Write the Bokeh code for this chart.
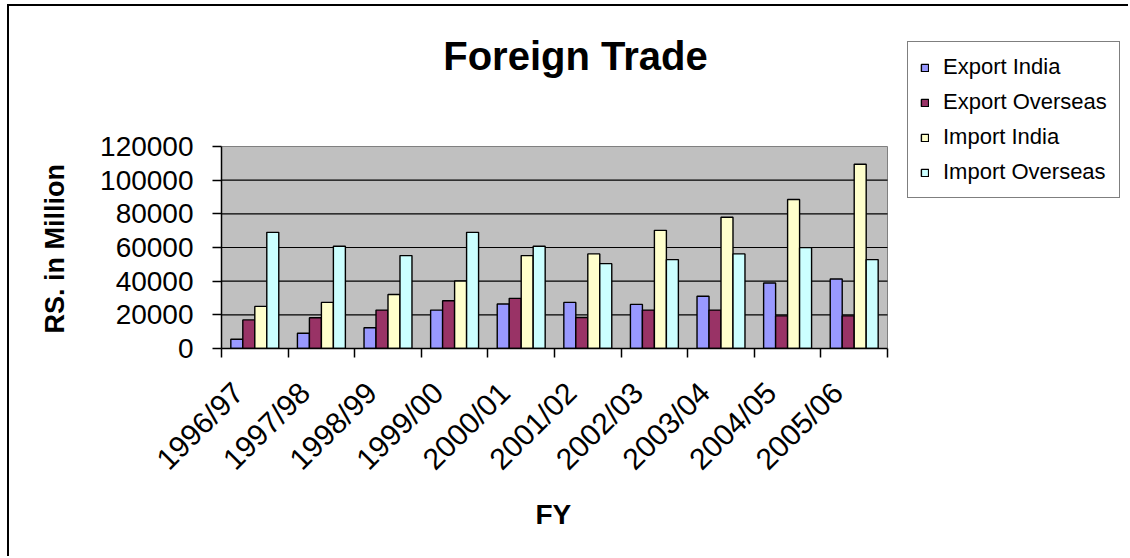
from bokeh.plotting import figure
from bokeh.models import (ColumnDataSource, Range1d, FixedTicker, Legend, LegendItem,
                          Label, Title, NumeralTickFormatter)
from bokeh.transform import dodge
from bokeh.embed import file_html
from bokeh.resources import INLINE

# Financial years (x categories)
years = ["1996/97", "1997/98", "1998/99", "1999/00", "2000/01",
         "2001/02", "2002/03", "2003/04", "2004/05", "2005/06"]

# Trade values, RS. in Million
export_india = [5500, 9100, 12300, 22800, 26400, 27400, 26200, 31000, 38900, 41300]
export_overseas = [17000, 18300, 22800, 28400, 29800, 18400, 22800, 22800, 19400, 19400]
import_india = [25000, 27400, 32100, 40100, 55200, 56200, 70200, 78000, 88500, 109500]
import_overseas = [69000, 60700, 55200, 69000, 60700, 50400, 52800, 56200, 59900, 52800]

series_names = ["Export India", "Export Overseas", "Import India", "Import Overseas"]
series_colors = ["#9999FF", "#993366", "#FFFFCC", "#CCFFFF"]
y_ticks = [0, 20000, 40000, 60000, 80000, 100000, 120000]

FONT = "Liberation Sans"

# Layout (pixels): canvas size, margins around the frame, size of the grey plot area
W, H = 1121, 552
BORDER_L, BORDER_B = 212, 210
AREA_W, AREA_H = 666, 202

n = len(years)
y_max = y_ticks[-1]
frame_w, frame_h = W - BORDER_L, H - BORDER_B
x_lo = -0.5
x_hi = x_lo + frame_w / AREA_W * n          # frame runs on past the bars to hold the legend
y_hi = frame_h / AREA_H * y_max             # and up above them to hold the title

idx = list(range(n))
source = ColumnDataSource(data=dict(
    x=idx,
    export_india=export_india,
    export_overseas=export_overseas,
    import_india=import_india,
    import_overseas=import_overseas,
))

p = figure(
    width=W, height=H, title=None,
    x_range=Range1d(x_lo, x_hi),
    y_range=Range1d(0, y_hi),
    output_backend="svg", toolbar_location=None,
    min_border_left=BORDER_L, min_border_right=0,
    min_border_top=0, min_border_bottom=BORDER_B,
    background_fill_color="white",
    border_fill_color="white",
    styles={"border-left": "2px solid black", "border-top": "2px solid black"},
    margin=(4, 0, 0, 7),
)
p.outline_line_color = None
p.xgrid.grid_line_color = None
p.ygrid.grid_line_color = None

# Grey plot area and horizontal gridlines
p.quad(left=x_lo, right=x_lo + n, bottom=0, top=y_max,
       fill_color="#C0C0C0", line_color="#808080", line_width=1)
grid_y = y_ticks[1:-1]
p.segment(x0=[x_lo] * len(grid_y), x1=[x_lo + n] * len(grid_y), y0=grid_y, y1=grid_y,
          line_color="black", line_width=1.2)

# Grouped bars
bar_w = 0.18
offsets = [-0.27, -0.09, 0.09, 0.27]
fields = ["export_india", "export_overseas", "import_india", "import_overseas"]
renderers = []
for field, off, color in zip(fields, offsets, series_colors):
    r = p.vbar(x=dodge("x", off), top=field, width=bar_w, bottom=0,
               source=source, fill_color=color, line_color="black", line_width=1.4)
    renderers.append(r)

# Y axis
p.yaxis.bounds = (0, y_max)
p.yaxis.ticker = FixedTicker(ticks=y_ticks)
p.yaxis.formatter = NumeralTickFormatter(format="0")
p.yaxis.major_tick_out = 9
p.yaxis.major_tick_in = 0
p.yaxis.minor_tick_out = 0
p.yaxis.minor_tick_in = 0
p.yaxis.major_label_standoff = 19
p.yaxis.major_label_text_font = FONT
p.yaxis.major_label_text_font_size = "28px"
p.yaxis.major_label_text_color = "black"
p.yaxis.axis_line_color = "black"
p.yaxis.axis_line_width = 1.5
p.yaxis.major_tick_line_color = "black"
p.yaxis.major_tick_line_width = 1.5

# X axis: rotated year labels, tick marks on group boundaries
label_pos = [i - 0.25 for i in idx]
p.xaxis.bounds = (x_lo, x_lo + n)
p.xaxis.ticker = FixedTicker(ticks=label_pos, minor_ticks=[x_lo + i for i in range(n + 1)])
p.xaxis.major_label_overrides = {pos: y for pos, y in zip(label_pos, years)}
p.xaxis.major_label_orientation = 0.785398
p.xaxis.major_tick_out = 0
p.xaxis.major_tick_in = 0
p.xaxis.minor_tick_out = 9
p.xaxis.minor_tick_in = 0
p.xaxis.minor_tick_line_color = "black"
p.xaxis.minor_tick_line_width = 1.5
p.xaxis.major_label_standoff = 30
p.xaxis.major_label_text_font = FONT
p.xaxis.major_label_text_font_size = "30px"
p.xaxis.major_label_text_color = "black"
p.xaxis.axis_line_color = "black"
p.xaxis.axis_line_width = 1.5

# Axis titles
ytitle = Title(text="RS. in Million", align="left", offset=15, standoff=55,
               text_font=FONT, text_font_size="27px", text_font_style="bold",
               text_color="black")
p.add_layout(ytitle, "left")
xtitle = Title(text="FY", align="left", offset=314, standoff=12,
               text_font=FONT, text_font_size="28px", text_font_style="bold",
               text_color="black")
p.add_layout(xtitle, "below")

# Chart title
title = Label(x=x_lo + 354 / AREA_W * n, y=(AREA_H + 91) / AREA_H * y_max,
              text="Foreign Trade", text_align="center",
              text_baseline="alphabetic", text_font=FONT, text_font_size="40px",
              text_font_style="bold", text_color="black")
p.add_layout(title)

# Legend
legend = Legend(
    items=[LegendItem(label=s, renderers=[r]) for s, r in zip(series_names, renderers)],
    location=(686, 150),
    orientation="vertical",
    border_line_color="black", border_line_width=1.2,
    background_fill_color="white", background_fill_alpha=1,
    label_text_font=FONT, label_text_font_size="22px", label_text_color="black",
    glyph_width=9, glyph_height=9, label_standoff=14,
    padding=12, spacing=9, label_height=24, margin=0,
)
p.add_layout(legend)

open("out.html", "w").write(file_html(p, INLINE))
